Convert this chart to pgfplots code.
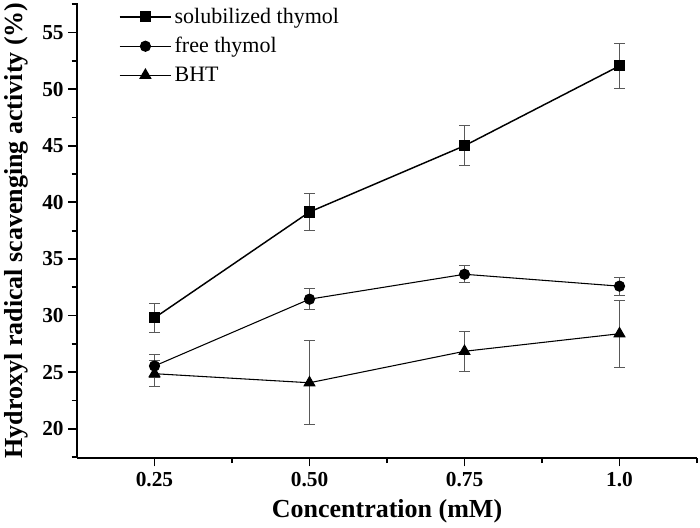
\documentclass[border=0pt]{standalone}
\usepackage{pgfplots}
\pgfplotsset{compat=1.18}
\usepackage{fontspec}
\setmainfont{Liberation Serif}
\pgfplotstableread{
x y e
0.25 29.8 1.3
0.50 39.15 1.65
0.75 45.0 1.75
1.00 52.05 2.0
}\sol
\pgfplotstableread{
x y e
0.25 25.55 1.0
0.50 31.45 0.95
0.75 33.65 0.75
1.00 32.6 0.8
}\free
\pgfplotstableread{
x y e
0.25 24.87 1.15
0.50 24.07 3.7
0.75 26.85 1.75
1.00 28.4 2.95
}\bht
\begin{document}
\begin{tikzpicture}
\begin{axis}[
  at={(0,0)}, anchor=south west,
  scale only axis, width=465pt, height=341pt,
  xmin=0.125, xmax=1.125, ymin=17.45, ymax=57.6,
  axis x line=bottom, axis y line=left,
  axis line style={-, line width=1.6pt},
  xtick={0.25,0.5,0.75,1}, xticklabels={0.25,0.50,0.75,1.0},
  minor xtick={0.375,0.625,0.875,1.125},
  ytick={20,25,...,55}, minor ytick={17.5,22.5,...,57.5},
  tick align=outside,
  major tick length=6.5pt, minor tick length=4pt,
  every tick/.style={line width=1.3pt, black},
  /pgf/number format/assume math mode=true,
  tick label style={font=\bfseries\fontsize{16}{19}\selectfont},
  xticklabel style={yshift=-1pt},
  xlabel={Concentration (mM)},
  ylabel={Hydroxyl radical scavenging activity (\%)},
  every axis x label/.style={at={(axis description cs:0.5,0)}, yshift=-40pt, anchor=center, font=\bfseries\fontsize{19.5}{22}\selectfont},
  every axis y label/.style={at={(axis description cs:0,0.5)}, xshift=-45.5pt, rotate=90, anchor=center, font=\bfseries\fontsize{19.5}{22}\selectfont},
  legend style={draw=none, fill=none, at={(axis description cs:0.065,0.998)}, anchor=north west, font=\fontsize{16.5}{19}\selectfont, row sep=5pt, inner sep=1pt},
  legend cell align=left,
  legend image code/.code={\draw[mark repeat=2,mark phase=2,#1] plot coordinates {(0cm,0cm) (0.68cm,0cm) (1.36cm,0cm)};},
  error bars/error bar style={gray!70!black, line width=0.7pt},
  error bars/error mark options={rotate=90, mark size=4pt, gray!70!black, line width=0.7pt},
]
\addplot[black, line width=1.1pt, mark=square*, mark size=3.6pt, mark options={solid},
  error bars/.cd, y dir=both, y explicit] table[x=x, y=y, y error=e] {\sol};
\addlegendentry{solubilized thymol}
\addplot[black, line width=0.8pt, mark=*, mark size=3.8pt,
  error bars/.cd, y dir=both, y explicit] table[x=x, y=y, y error=e] {\free};
\addlegendentry{free thymol}
\addplot[black, line width=0.8pt, mark=triangle*, mark size=4.6pt,
  error bars/.cd, y dir=both, y explicit] table[x=x, y=y, y error=e] {\bht};
\addlegendentry{BHT}
\end{axis}
\pgfresetboundingbox
\path[use as bounding box] (-57.75pt,-52pt) rectangle (467.25pt,343.3pt);
\end{tikzpicture}
\end{document}
